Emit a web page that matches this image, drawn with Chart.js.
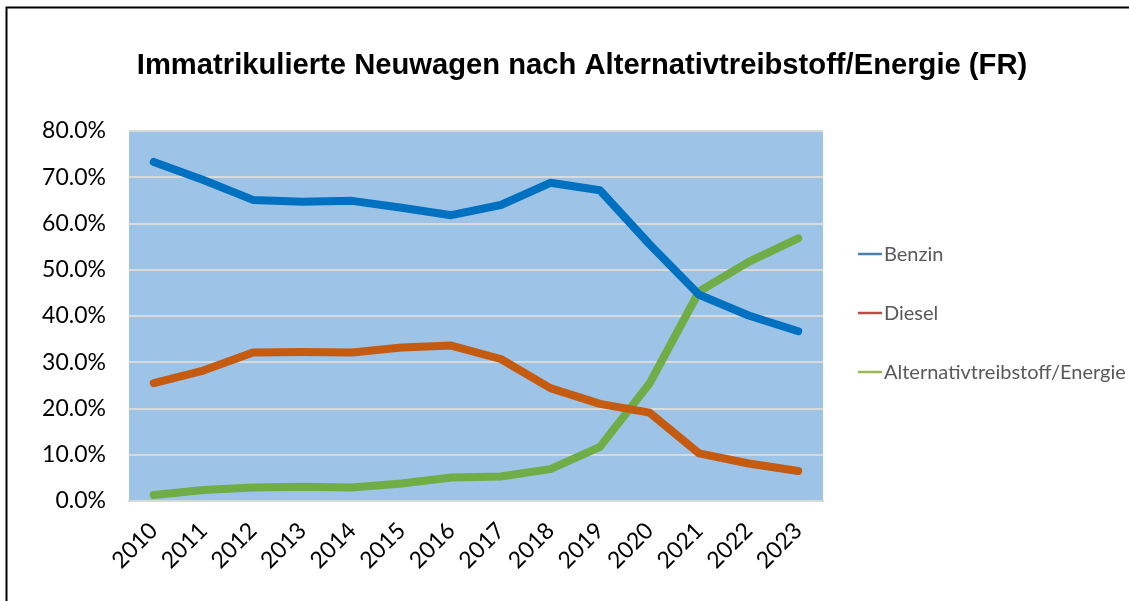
<!DOCTYPE html>
<html>
<head>
<meta charset="utf-8">
<script src="https://cdn.jsdelivr.net/npm/chart.js@4.4.1/dist/chart.umd.min.js"></script>
<style>
html,body{margin:0;padding:0;background:#fff;}
#wrap{position:absolute;left:0;top:0;width:1129px;height:601px;}
</style>
</head>
<body>
<div id="wrap"><canvas id="c" width="1129" height="601"></canvas></div>
<script>
const years = ['2010','2011','2012','2013','2014','2015','2016','2017','2018','2019','2020','2021','2022','2023'];
const benzin = [73.3, 69.4, 65.1, 64.7, 64.9, 63.4, 61.8, 64.0, 68.8, 67.2, 55.5, 44.6, 40.1, 36.7];
const diesel = [25.5, 28.2, 32.1, 32.2, 32.1, 33.2, 33.6, 30.7, 24.4, 21.0, 19.1, 10.3, 8.1, 6.5];
const alternativ = [1.3, 2.4, 2.9, 3.1, 2.9, 3.8, 5.1, 5.3, 6.9, 11.7, 25.4, 45.3, 51.7, 56.8];
const seriesNames = ['Benzin', 'Diesel', 'Alternativtreibstoff/Energie'];
const yTicks = [0, 10, 20, 30, 40, 50, 60, 70, 80];
const titleText = 'Immatrikulierte Neuwagen nach Alternativtreibstoff/Energie (FR)';

const lineColors = ['#0070C0', '#C55A11', '#70AD47'];
const legendColors = ['#4A7EBB', '#BE4B48', '#98B954'];

const framePlugin = {
  id: 'frame',
  beforeDraw(chart) {
    const ctx = chart.ctx;
    const a = chart.chartArea;
    ctx.save();
    ctx.fillStyle = '#9DC3E6';
    ctx.fillRect(a.left, a.top, a.right - a.left, a.bottom - a.top);
    ctx.restore();
  },
  afterDraw(chart) {
    const ctx = chart.ctx;
    ctx.save();
    // outer frame
    ctx.strokeStyle = '#000';
    ctx.lineWidth = 2;
    ctx.beginPath();
    ctx.moveTo(6.5, 601);
    ctx.lineTo(6.5, 7.5);
    ctx.lineTo(1129, 7.5);
    ctx.stroke();
    // title
    ctx.fillStyle = '#000';
    ctx.font = 'bold 29.2px "Liberation Sans", Arial, sans-serif';
    ctx.textAlign = 'center';
    ctx.textBaseline = 'middle';
    ctx.fillText(titleText, 582, 66);
    // legend
    ctx.font = '20px Lato, sans-serif';
    ctx.textAlign = 'left';
    const ys = [254, 313, 372];
    seriesNames.forEach((n, i) => {
      ctx.strokeStyle = legendColors[i];
      ctx.lineWidth = 2.5;
      ctx.beginPath();
      ctx.moveTo(858, ys[i]);
      ctx.lineTo(882, ys[i]);
      ctx.stroke();
      ctx.fillStyle = '#595959';
      ctx.fillText(n, 884, ys[i] + 1);
    });
    ctx.restore();
  }
};

const mk = (label, data, i) => ({
  label, data,
  borderColor: lineColors[i],
  backgroundColor: lineColors[i],
  borderWidth: 8,
  pointRadius: 0,
  borderCapStyle: 'round',
  borderJoinStyle: 'round',
  tension: 0,
  fill: false
});

new Chart(document.getElementById('c'), {
  type: 'line',
  data: {
    labels: years,
    datasets: [
      mk(seriesNames[0], benzin, 0),
      mk(seriesNames[1], diesel, 1),
      mk(seriesNames[2], alternativ, 2)
    ]
  },
  options: {
    responsive: false,
    animation: false,
    devicePixelRatio: 1,
    layout: { padding: { top: 131, right: 306, left: 0, bottom: 0 } },
    plugins: { legend: { display: false }, title: { display: false }, tooltip: { enabled: false } },
    scales: {
      x: {
        offset: true,
        grid: { display: false, drawTicks: false },
        border: { display: true, color: '#D9D9D9', width: 2 },
        ticks: {
          color: '#000',
          font: { family: 'Lato, sans-serif', size: 23 },
          maxRotation: 45, minRotation: 45,
          padding: 16,
          autoSkip: false
        },
        afterFit(s) { s.height = 100; }
      },
      y: {
        min: 0, max: 80,
        afterBuildTicks(s) { s.ticks = yTicks.map(v => ({ value: v })); },
        grid: { color: '#D9D9D9', lineWidth: 2, drawTicks: false },
        border: { display: false },
        ticks: {
          color: '#000',
          font: { family: 'Lato, sans-serif', size: 23 },
          padding: 23,
          callback: v => v.toFixed(1) + '%'
        },
        afterFit(s) { s.width = 129; }
      }
    }
  },
  plugins: [framePlugin]
});
</script>
</body>
</html>
